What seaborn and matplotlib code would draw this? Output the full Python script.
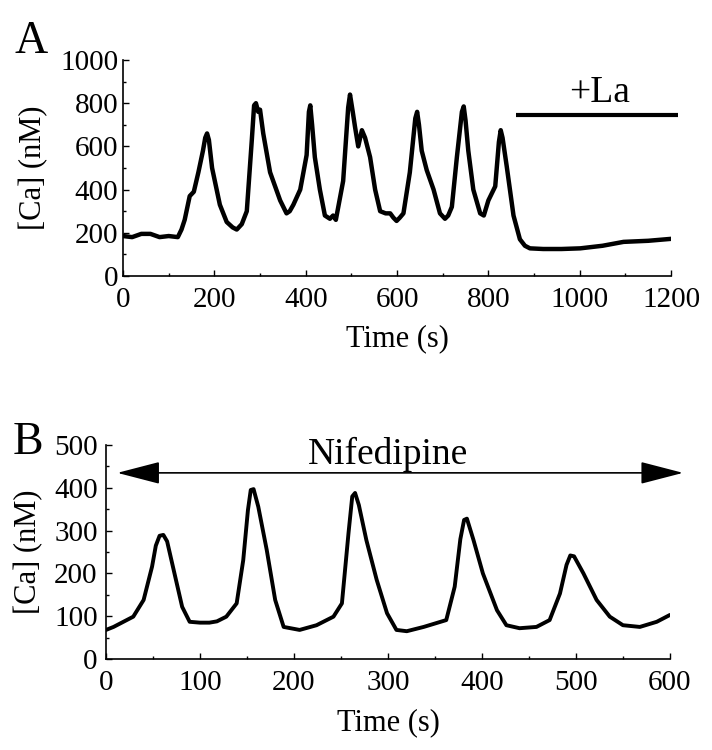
import numpy as np
import pandas as pd
import seaborn as sns
import matplotlib.pyplot as plt
from matplotlib.ticker import MultipleLocator

# Panel A: [Ca] trace, La added at ~860 s
time_a = [0, 20, 40, 60, 80, 100, 120, 128, 135, 146, 155, 165, 175, 180, 184, 188,
          195, 212, 227, 240, 249, 260, 271, 282, 287, 291, 296, 300, 307, 322,
          344, 358, 365, 373, 388, 402, 407, 410, 414, 420, 431, 442, 453, 460,
          466, 482, 493, 497, 503, 508, 515, 523, 530, 541, 552, 563, 575, 585,
          592, 599, 606, 614, 628, 640, 644, 648, 654, 665, 680, 694, 705, 712,
          720, 731, 742, 746, 750, 756, 767, 782, 790, 800, 815, 823, 827, 831,
          840, 855, 869, 880, 891, 920, 960, 1001, 1050, 1096, 1150, 1200]
ca_a = [185, 180, 195, 195, 180, 185, 180, 215, 260, 370, 390, 480, 580, 640, 660, 630,
        500, 330, 250, 225, 215, 240, 300, 630, 790, 800, 760, 770, 660, 480,
        350, 290, 300, 330, 400, 560, 760, 790, 700, 550, 400, 280, 265, 280,
        260, 440, 780, 840, 760, 690, 600, 675, 640, 550, 400, 300, 290, 290,
        270, 255, 270, 290, 480, 730, 760, 700, 580, 490, 400, 290, 265, 280,
        320, 550, 760, 785, 720, 580, 400, 290, 280, 350, 415, 620, 675, 640,
        510, 280, 170, 140, 128, 125, 125, 128, 140, 158, 163, 172]

# Panel B: [Ca] trace under nifedipine
time_b = [0, 8, 15, 29, 40, 49, 53, 57, 61, 65, 72, 81, 89, 100, 110, 118, 128, 139,
          146, 151, 154, 157, 162, 171, 180, 189, 206, 224, 242, 251, 258, 262,
          265, 269, 277, 288, 299, 309, 320, 338, 362, 371, 377, 381, 384, 391,
          401, 416, 426, 440, 458, 472, 483, 490, 494, 498, 508, 522, 536, 550,
          568, 586, 600]
ca_b = [68, 75, 83, 99, 138, 216, 265, 288, 290, 275, 208, 122, 87, 85, 85, 88, 99, 130,
        231, 348, 395, 397, 356, 255, 138, 75, 68, 79, 99, 130, 294, 380,
        388, 360, 278, 185, 107, 68, 65, 75, 91, 169, 280, 325, 328, 278,
        200, 114, 79, 72, 75, 91, 153, 220, 242, 240, 200, 138, 99, 79,
        75, 87, 103]

# treatment bars
la_start, la_end, la_level = 861, 1215, 745
nif_start, nif_end, nif_level = 12, 614, 435

df_a = pd.DataFrame({"t": time_a, "ca": ca_a})
df_b = pd.DataFrame({"t": time_b, "ca": ca_b})

sns.set_style("ticks")
plt.rcParams['font.family'] = ['Liberation Serif', 'DejaVu Serif']
plt.rcParams['text.color'] = 'black'
plt.rcParams['axes.labelcolor'] = 'black'
plt.rcParams['xtick.color'] = 'black'
plt.rcParams['ytick.color'] = 'black'

fig = plt.figure(figsize=(7.12, 7.5), dpi=100)
axA = fig.add_axes([0.1728, 0.632, 0.7697, 0.288])
axB = fig.add_axes([0.1489, 0.1213, 0.792, 0.2853])

sns.lineplot(data=df_a, x="t", y="ca", ax=axA, color="black", lw=3.2)
sns.lineplot(data=df_b, x="t", y="ca", ax=axB, color="black", lw=2.8)

for ax in (axA, axB):
    sns.despine(ax=ax)
    for s in ("left", "bottom"):
        ax.spines[s].set_linewidth(1.2)
        ax.spines[s].set_color("black")
    ax.tick_params(direction="in", which="both", labelsize=21, colors="black",
                   width=1.0)
    ax.tick_params(which="major", length=4)
    ax.tick_params(which="minor", length=2.5)
    ax.tick_params(axis="x", pad=8)
    ax.set_xlabel("Time (s)", fontsize=22)
    ax.set_ylabel("[Ca] (nM)", fontsize=22)
    ax.xaxis.label.set_va("center")
    ax.yaxis.label.set_va("center")

axA.set_xlim(0, 1200)
axA.set_ylim(0, 1000)
axA.xaxis.set_major_locator(MultipleLocator(200))
axA.xaxis.set_minor_locator(MultipleLocator(100))
axA.yaxis.set_major_locator(MultipleLocator(200))
axA.yaxis.set_minor_locator(MultipleLocator(100))
axA.xaxis.set_label_coords(0.5, -0.29)
axA.yaxis.set_label_coords(-0.164, 0.5)

axB.set_xlim(0, 600)
axB.set_ylim(0, 500)
axB.xaxis.set_major_locator(MultipleLocator(100))
axB.xaxis.set_minor_locator(MultipleLocator(50))
axB.yaxis.set_major_locator(MultipleLocator(100))
axB.yaxis.set_minor_locator(MultipleLocator(50))
axB.tick_params(axis="y", pad=6)
axB.xaxis.set_label_coords(0.5, -0.299)
axB.yaxis.set_label_coords(-0.138, 0.5)

# +La bar
axA.plot([la_start, la_end], [la_level, la_level], color="black", lw=3,
         clip_on=False, solid_capstyle="butt")
axA.text((la_start + la_end) / 2 + 5, 850, "+La", fontsize=27, ha="center",
         va="center")

# Nifedipine double arrow
axB.annotate("", xy=(nif_end, nif_level), xytext=(nif_start, nif_level),
             annotation_clip=False,
             arrowprops=dict(arrowstyle="<|-|>,head_length=1.35,head_width=0.35",
                             mutation_scale=20, color="black", lw=1.2,
                             shrinkA=0, shrinkB=0))
axB.text(300, 477, "Nifedipine", fontsize=27, ha="center", va="center")

fig.text(31 / 712, 1 - 42 / 750, "A", fontsize=33, ha="center", va="center")
fig.text(28 / 712, 1 - 443 / 750, "B", fontsize=33, ha="center", va="center")

fig.savefig("out.png", dpi=100)
